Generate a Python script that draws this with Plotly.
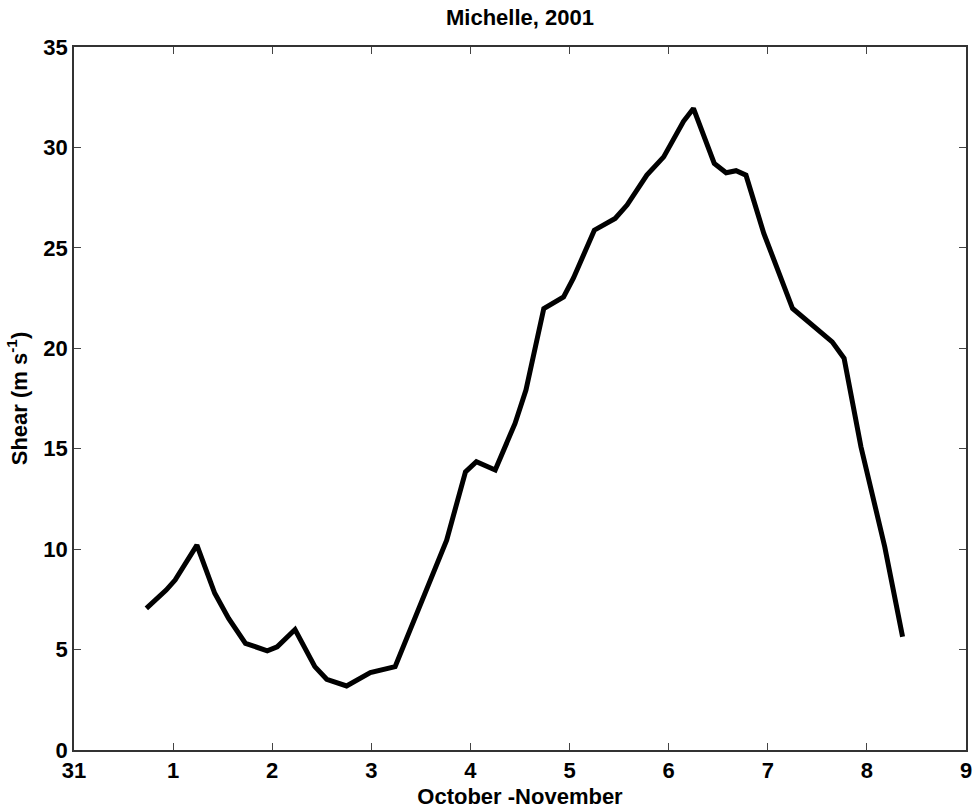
import plotly.graph_objects as go

# Time in days after Oct 31 00 UTC (0 = Oct 31, 1 = Nov 1, ...)
days = [0.73, 0.93, 1.02, 1.24, 1.42, 1.56, 1.73, 1.95, 2.05, 2.23, 2.43, 2.55,
        2.75, 2.99, 3.24, 3.53, 3.76, 3.95, 4.06, 4.25, 4.45, 4.56, 4.74, 4.94,
        5.04, 5.25, 5.46, 5.58, 5.78, 5.95, 6.15, 6.25, 6.46, 6.58, 6.68, 6.78,
        6.96, 7.25, 7.65, 7.77, 7.94, 8.18, 8.36]
shear = [7.05, 7.96, 8.46, 10.2, 7.8, 6.55, 5.31, 4.94, 5.14, 6.0, 4.15, 3.52,
         3.19, 3.85, 4.15, 7.7, 10.45, 13.85, 14.35, 13.94, 16.26, 17.92, 21.98, 22.56,
         23.5, 25.88, 26.46, 27.13, 28.62, 29.53, 31.3, 31.94, 29.2, 28.74, 28.84, 28.62,
         25.72, 21.98, 20.32, 19.5, 15.1, 10.12, 5.64]

x_tickvals = [0, 1, 2, 3, 4, 5, 6, 7, 8, 9]
x_ticktext = ["31", "1", "2", "3", "4", "5", "6", "7", "8", "9"]
y_tickvals = [0, 5, 10, 15, 20, 25, 30, 35]
y_ticktext = ["0", "5", "10", "15", "20", "25", "30", "35"]

font_family = "Liberation Sans, Arial, sans-serif"
tick_font = dict(family=font_family, size=22, color="black")
label_font = dict(family=font_family, size=22, color="black")

fig = go.Figure()
fig.add_trace(go.Scatter(x=days, y=shear, mode="lines",
                         line=dict(color="black", width=5),
                         showlegend=False, hoverinfo="skip"))

axis_common = dict(showgrid=False, zeroline=False, showline=True,
                   linecolor="#333333", linewidth=1.5, mirror="ticks",
                   ticks="inside", ticklen=7, tickcolor="#444444", tickwidth=1,
                   tickfont=tick_font, automargin=False)

W, H = 977, 812
fig.update_layout(
    width=W, height=H,
    margin=dict(l=74, r=11, t=47, b=62),
    paper_bgcolor="white", plot_bgcolor="white",
    title=dict(text="<b>Michelle, 2001</b>", x=0.5, xref="paper", xanchor="center",
               yref="container", y=1 - 17 / H, yanchor="middle",
               font=dict(family=font_family, size=22, color="black")),
    xaxis=dict(range=[0, 9], tickvals=x_tickvals,
               ticktext=["<b>%s</b>" % t for t in x_ticktext],
               title=dict(text="<b>October -November</b>", standoff=6, font=label_font),
               **axis_common),
    yaxis=dict(range=[0, 35], tickvals=y_tickvals,
               ticktext=["<b>%s</b>" % t for t in y_ticktext],
               title=dict(text="<b>Shear (m s<sup>-1</sup>)</b>", standoff=10, font=label_font),
               **axis_common),
)

# remove the browser's default 8px body margin so the figure fills the window exactly
fig.write_html("out.html", config={"displayModeBar": False},
               post_script="document.body.style.margin='0';")
